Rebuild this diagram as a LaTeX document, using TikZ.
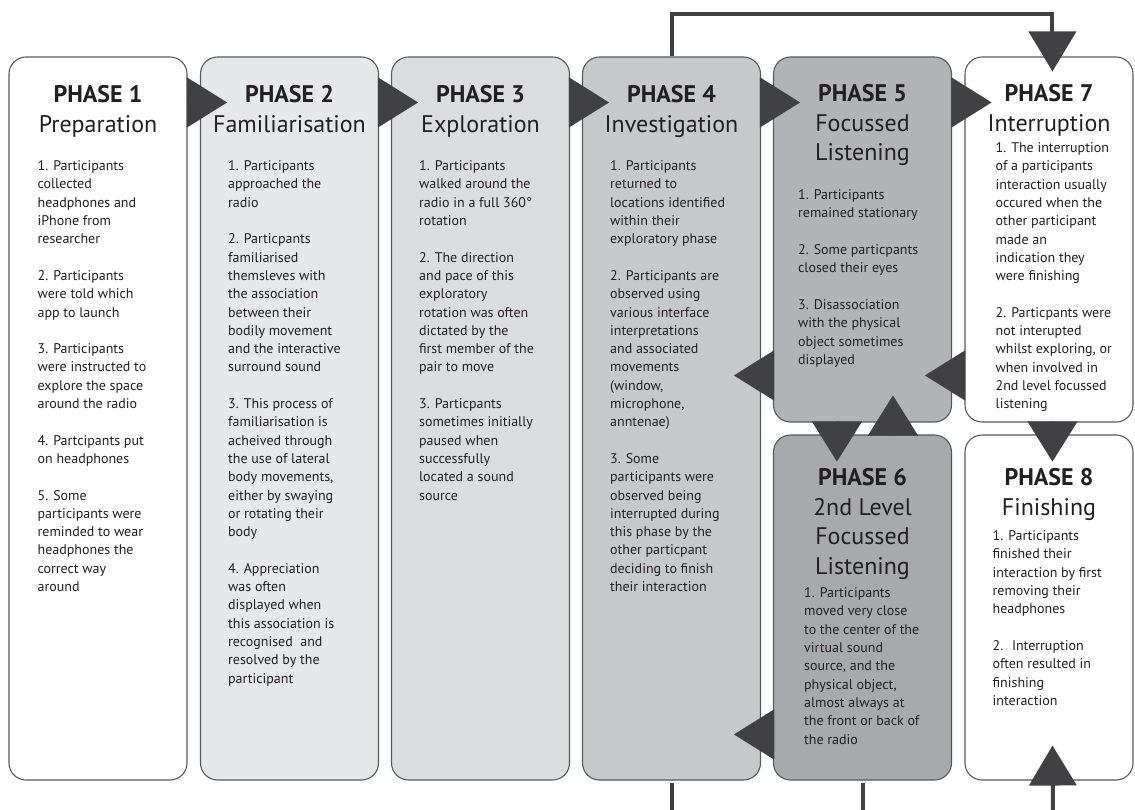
\documentclass[tikz,border=0pt]{standalone}
\usepackage{fontspec}
\setmainfont{PT Sans}
\usetikzlibrary{positioning,calc,arrows.meta}

\definecolor{ink}{HTML}{231F20}
\definecolor{boxline}{HTML}{58595B}
\definecolor{arrowgray}{HTML}{414042}
\definecolor{grayA}{HTML}{E6E7E8}
\definecolor{grayB}{HTML}{DBDCDE}
\definecolor{grayC}{HTML}{C7C8CA}
\definecolor{grayD}{HTML}{B1B3B6}
\definecolor{grayE}{HTML}{A7A9AC}

\tikzset{
  phase/.style={draw=boxline,line width=1.1pt,rounded corners=17pt,minimum width=178pt,inner sep=0pt},
  head/.style={align=center,inner sep=0pt,text=ink,font=\fontsize{24}{29.5}\selectfont},
  body/.style={align=left,inner sep=0pt,text=ink,font=\fontsize{14}{18.3}\selectfont},
  fat/.style={draw=arrowgray,fill=arrowgray,line width=0.1pt,-{Triangle[length=40pt,width=50pt]}},
  wire/.style={draw=arrowgray,line width=4pt},
  link/.style={wire,-{Triangle[length=40pt,width=47pt]}}
}

\begin{document}
\begin{tikzpicture}[x=1pt,y=-1pt]
\useasboundingbox (0,0) rectangle (1135,810);

% boxes
\node[phase,fill=white,minimum height=723pt] (p1) at (98,418.5) {};
\node[phase,fill=grayA,minimum height=723pt] (p2) at (289.5,418.5) {};
\node[phase,fill=grayB,minimum height=723pt] (p3) at (480.5,418.5) {};
\node[phase,fill=grayC,minimum height=723pt] (p4) at (671.5,418.5) {};
\node[phase,fill=grayD,minimum height=365pt] (p5) at (862.5,239.5) {};
\node[phase,fill=grayE,minimum height=345pt] (p6) at (862.5,607.5) {};
\node[phase,fill=white,minimum width=168pt,minimum height=365pt] (p7) at (1049,239.5) {};
\node[phase,fill=white,minimum width=168pt,minimum height=345pt] (p8) at (1049,607.5) {};

% loose ends at the bottom
\coordinate (e4) at (671.5,812);
\coordinate (e6) at (862.5,812);
\coordinate (e8) at (1053,812);

% arrows
\draw[fat] ($(p1.north east)+(0,46)$) -- ($(p2.north west)+(27,46)$);
\draw[fat] ($(p2.north east)+(0,46)$) -- ($(p3.north west)+(27,46)$);
\draw[fat] ($(p3.north east)+(0,46)$) -- ($(p4.north west)+(27,46)$);
\draw[fat] ($(p4.north east)+(0,46)$) -- ($(p5.north west)+(27,46)$);
\draw[fat] ($(p5.north east)+(0,46)$) -- ($(p7.north west)+(27,46)$);
\draw[fat] ($(p5.north west)+(0,319)$) -- ($(p4.north east)+(-27,319)$);
\draw[fat] ($(p7.north west)+(0,319)$) -- ($(p5.north east)+(-27,319)$);
\draw[fat] ($(p6.north west)+(0,300)$) -- ($(p4.north east)+(-27,678)$);
\draw[fat] ($(p5.south west)+(64,0)$) -- ($(p6.north west)+(64,27)$);
\draw[fat] ($(p6.north west)+(120,0)$) -- ($(p5.south west)+(120,-27)$);
\draw[fat] ($(p7.south west)+(88,0)$) -- ($(p8.north west)+(88,27)$);

\draw[link] (p4.north) -- ++(0,-42) -| ($(p7.north west)+(88,15)$);
\draw[wire] ($(p4.south)+(0,2)$) -- (e4);
\draw[wire] ($(p6.south)+(0,2)$) -- (e6);
\draw[link] (e8) -- ($(p8.south west)+(88,-35)$);

% titles
\node[head,below=29pt of p1.north] (h1) {\textbf{PHASE 1}\\Preparation};
\node[head,below=29pt of p2.north] (h2) {\textbf{PHASE 2}\\Familiarisation};
\node[head,below=29pt of p3.north] (h3) {\textbf{PHASE 3}\\Exploration};
\node[head,below=29pt of p4.north] (h4) {\textbf{PHASE 4}\\Investigation};
\node[head,below=28pt of p5.north] (h5) {\textbf{PHASE 5}\\Focussed\\Listening};
\node[head,below=34pt of p6.north] (h6) {\textbf{PHASE 6}\\2nd Level\\Focussed\\Listening};
\node[head,below=28pt of p7.north] (h7) {\textbf{PHASE 7}\\Interruption};
\node[head,below=34pt of p8.north] (h8) {\textbf{PHASE 8}\\Finishing};

% texts
\node[body,below right=104pt and 29pt of p1.north west] (b1) {1. Participants\\collected\\headphones and\\iPhone from\\researcher\\[18.3pt]
2. Participants\\were told which\\app to launch\\[18.3pt]
3. Participants\\were instructed to\\explore the space\\around the radio\\[18.3pt]
4. Partcipants put\\on headphones\\[18.3pt]
5. Some\\participants were\\reminded to wear\\headphones the\\correct way\\around};
\node[body,below right=104pt and 28pt of p2.north west] (b2) {1. Participants\\approached the\\radio\\[18.3pt]
2. Particpants\\familiarised\\themsleves with\\the association\\between their\\bodily movement\\and the interactive\\surround sound\\[18.3pt]
3. This process of\\familiarisation is\\acheived through\\the use of lateral\\body movements,\\either by swaying\\or rotating their\\body\\[18.3pt]
4. Appreciation\\was often\\displayed when\\this association is\\recognised~ and\\resolved by the\\participant};
\node[body,below right=104pt and 28pt of p3.north west] (b3) {1. Participants\\walked around the\\radio in a full 360°\\rotation\\[18.3pt]
2. The direction\\and pace of this\\exploratory\\rotation was often\\dictated by the\\first member of the\\pair to move\\[18.3pt]
3. Particpants\\sometimes initially\\paused when\\successfully\\located a sound\\source};
\node[body,below right=104pt and 28pt of p4.north west] (b4) {1. Participants\\returned to\\locations identified\\within their\\exploratory phase\\[18.3pt]
2. Participants are\\observed using\\various interface\\interpretations\\and associated\\movements\\(window,\\microphone,\\anntenae)\\[18.3pt]
3. Some\\participants were\\observed being\\interrupted during\\this phase by the\\other particpant\\deciding to finish\\their interaction};
\node[body,below right=133pt and 25pt of p5.north west] (b5) {1. Participants\\remained stationary\\[18.3pt]
2. Some particpants\\closed their eyes\\[18.3pt]
3. Disassociation\\with the physical\\object sometimes\\displayed};
\node[body,below right=153pt and 31pt of p6.north west] (b6) {1. Participants\\moved very close\\to the center of the\\virtual sound\\source, and the\\physical object,\\almost always at\\the front or back of\\the radio};
\node[body,below right=86pt and 31pt of p7.north west] (b7) {1. The interruption\\of a participants\\interaction usually\\occured when the\\other participant\\made an\\indication they\\were finishing\\[18.3pt]
2. Particpants were\\not interupted\\whilst exploring, or\\when involved in\\2nd level focussed\\listening};
\node[body,below right=96pt and 28pt of p8.north west] (b8) {1. Participants\\finished their\\interaction by first\\removing their\\headphones\\[18.3pt]
2.~ Interruption\\often resulted in\\finishing\\interaction};
\end{tikzpicture}
\end{document}
